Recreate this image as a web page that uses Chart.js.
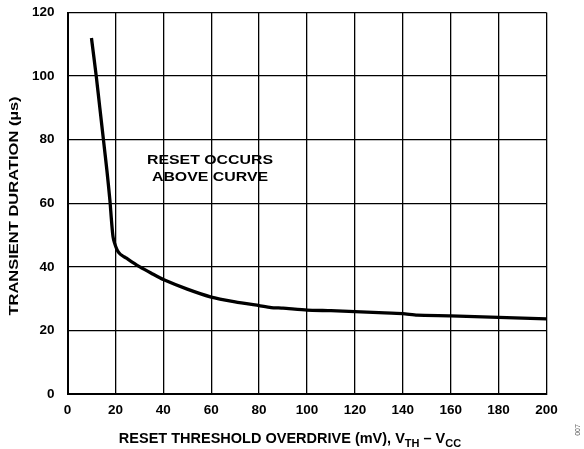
<!DOCTYPE html>
<html>
<head>
<meta charset="utf-8">
<script src="https://cdn.jsdelivr.net/npm/chart.js@4.4.1/dist/chart.umd.min.js"></script>
<style>
  html, body { margin: 0; padding: 0; background: #fff; }
  #wrap { width: 584px; height: 449px; position: relative; }
</style>
</head>
<body>
<div id="wrap"><canvas id="myChart" width="584" height="449"></canvas></div>
<script>
// curve (overdrive in mV, transient duration in us)
var overdriveMv = [10, 12, 13.5, 15, 16.5, 17.7, 19, 20.7, 22, 24.6, 27, 30.2, 35, 40, 50, 60, 70, 80, 85, 90, 100, 110, 120, 130, 140, 146, 160, 180, 200];
var transientUs = [112, 100, 90, 80, 70, 61, 49.5, 45.3, 44, 42.7, 41.5, 40, 38, 36, 33, 30.5, 29, 27.8, 27.2, 27, 26.4, 26.2, 25.9, 25.6, 25.3, 24.8, 24.6, 24.1, 23.6];
var xTicks = [0, 20, 40, 60, 80, 100, 120, 140, 160, 180, 200];
var yTicks = [0, 20, 40, 60, 80, 100, 120];
var noteLines = ['RESET OCCURS', 'ABOVE CURVE'];

var FONT = '"Liberation Sans", Arial, sans-serif';

var points = overdriveMv.map(function(x, i) {
    return { x: x, y: transientUs[i] };
});

// the reference lettering is a bit wider than plain Arial
function wideText(ctx, text, x, y, stretch) {
    ctx.save();
    ctx.translate(x, y);
    ctx.scale(stretch, 1);
    ctx.fillText(text, 0, 0);
    ctx.restore();
}

var textPlugin = {
    id: 'texts',
    afterDraw: function(chart) {
        var ctx = chart.ctx;
        var xs = chart.scales.x;
        ctx.save();
        ctx.fillStyle = '#000';

        // note inside the plot
        ctx.font = 'bold 12.5px ' + FONT;
        ctx.textAlign = 'center';
        ctx.textBaseline = 'middle';
        wideText(ctx, noteLines[0], xs.getPixelForValue(59.5), 161, 1.27);
        wideText(ctx, noteLines[1], xs.getPixelForValue(59.5), 178, 1.27);

        // y title
        ctx.save();
        ctx.translate(14, 206);
        ctx.rotate(-Math.PI / 2);
        ctx.font = 'bold 13px ' + FONT;
        wideText(ctx, 'TRANSIENT DURATION (\u00b5s)', 0, 0, 1.27);
        ctx.restore();

        // x title with subscripts
        var parts = [
            ['RESET THRESHOLD OVERDRIVE (mV), V', false],
            ['TH', true],
            [' \u2013 V', false],
            ['CC', true]
        ];
        var big = 'bold 14.5px ' + FONT, small = 'bold 11px ' + FONT;
        var total = 0;
        parts.forEach(function(p) {
            ctx.font = p[1] ? small : big;
            total += ctx.measureText(p[0]).width;
        });
        var x = 290 - total / 2;
        var base = 443;
        ctx.textAlign = 'left';
        ctx.textBaseline = 'alphabetic';
        parts.forEach(function(p) {
            ctx.font = p[1] ? small : big;
            ctx.fillText(p[0], x, p[1] ? base + 4 : base);
            x += ctx.measureText(p[0]).width;
        });

        // figure id at the right edge
        ctx.save();
        ctx.translate(578, 430);
        ctx.rotate(-Math.PI / 2);
        ctx.font = '7px ' + FONT;
        ctx.fillStyle = '#555';
        ctx.textAlign = 'center';
        ctx.textBaseline = 'middle';
        ctx.fillText('007', 0, 0);
        ctx.restore();

        ctx.restore();
    }
};

var config = {
    type: 'scatter',
    data: {
        datasets: [{
            label: 'Transient duration',
            data: points,
            showLine: true,
            borderColor: '#000',
            borderWidth: 3.3,
            pointRadius: 0,
            tension: 0.2
        }]
    },
    options: {
        responsive: false,
        animation: false,
        layout: { padding: { left: 0, top: 12.5, right: 37.5, bottom: 0 } },
        plugins: {
            legend: { display: false },
            tooltip: { enabled: false }
        },
        scales: {
            x: {
                type: 'linear',
                min: 0,
                max: 200,
                afterBuildTicks: function(scale) {
                    scale.ticks = xTicks.map(function(v) { return { value: v }; });
                },
                afterFit: function(scale) {
                    scale.height = 55;
                    scale.paddingLeft = 0;
                    scale.paddingRight = 0;
                },
                grid: { color: '#000', lineWidth: 1.3, drawTicks: false },
                border: { color: '#000', width: 2 },
                ticks: {
                    color: '#000',
                    padding: 8,
                    maxRotation: 0,
                    font: { family: FONT, size: 13.5, weight: 'bold' }
                }
            },
            y: {
                type: 'linear',
                min: 0,
                max: 120,
                afterBuildTicks: function(scale) {
                    scale.ticks = yTicks.map(function(v) { return { value: v }; });
                },
                afterFit: function(scale) {
                    scale.width = 67.5;
                    scale.paddingTop = 0;
                    scale.paddingBottom = 0;
                },
                grid: { color: '#000', lineWidth: 1.3, drawTicks: false },
                border: { color: '#000', width: 2 },
                ticks: {
                    color: '#000',
                    padding: 13,
                    font: { family: FONT, size: 13.5, weight: 'bold' }
                }
            }
        }
    },
    plugins: [textPlugin]
};

var myChart = new Chart(document.getElementById('myChart'), config);
</script>
</body>
</html>
